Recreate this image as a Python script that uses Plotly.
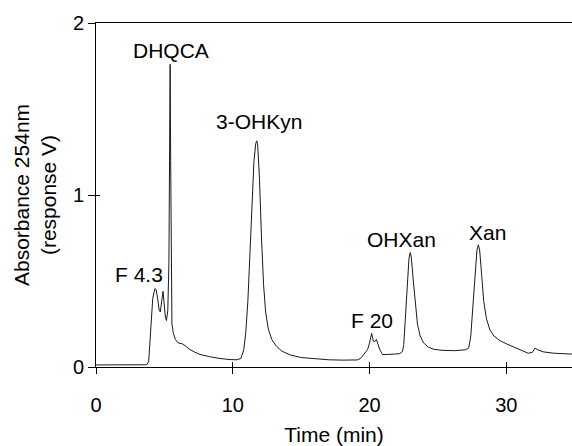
import plotly.graph_objects as go

# Chromatogram trace: retention time (min) and absorbance at 254 nm (response V)
time_min = [
    0.0, 1.5, 3.0, 3.7, 3.85, 3.95, 4.05, 4.15, 4.3, 4.4, 4.5, 4.62, 4.7, 4.8, 4.9,
    4.97, 5.07, 5.15, 5.25, 5.33, 5.38, 5.42, 5.46, 5.5, 5.55, 5.65, 5.8, 6.0, 6.3,
    6.5, 6.8, 7.2, 7.6, 8.3, 9.0, 9.8, 10.3, 10.6, 10.8, 10.95, 11.1, 11.25, 11.4,
    11.55, 11.68, 11.75, 11.82, 11.95, 12.1, 12.25, 12.4, 12.6, 12.85, 13.2, 13.6,
    14.2, 15.0, 16.0, 17.0, 18.0, 19.1, 19.35, 19.6, 19.85, 20.0, 20.15, 20.28,
    20.38, 20.5, 20.6, 20.75, 20.95, 21.3, 21.8, 22.2, 22.4, 22.5, 22.62, 22.75,
    22.88, 22.97, 23.05, 23.2, 23.35, 23.5, 23.7, 23.95, 24.3, 24.7, 25.3, 26.2,
    27.0, 27.25, 27.4, 27.55, 27.7, 27.85, 27.95, 28.05, 28.2, 28.35, 28.55, 28.8,
    29.1, 29.5, 30.0, 30.5, 31.0, 31.6, 31.9, 32.1, 32.3, 32.7, 33.5, 34.8,
]
absorbance = [
    0.012, 0.012, 0.012, 0.013, 0.03, 0.15, 0.3, 0.4, 0.455, 0.45, 0.4, 0.33, 0.32,
    0.38, 0.44, 0.38, 0.29, 0.27, 0.33, 0.6, 1.2, 1.76, 1.2, 0.5, 0.25, 0.2, 0.16,
    0.14, 0.135, 0.125, 0.105, 0.087, 0.073, 0.06, 0.05, 0.043, 0.042, 0.05, 0.1,
    0.2, 0.38, 0.65, 0.95, 1.2, 1.3, 1.315, 1.29, 1.1, 0.75, 0.48, 0.32, 0.22, 0.16,
    0.12, 0.092, 0.07, 0.055, 0.047, 0.042, 0.04, 0.041, 0.05, 0.075, 0.1, 0.14,
    0.195, 0.15, 0.148, 0.16, 0.14, 0.1, 0.072, 0.072, 0.075, 0.078, 0.09, 0.13,
    0.3, 0.5, 0.63, 0.665, 0.64, 0.5, 0.35, 0.25, 0.18, 0.14, 0.115, 0.103, 0.097,
    0.095, 0.1, 0.11, 0.18, 0.35, 0.55, 0.68, 0.71, 0.68, 0.53, 0.38, 0.28, 0.215,
    0.18, 0.155, 0.135, 0.118, 0.1, 0.08, 0.085, 0.11, 0.1, 0.088, 0.08, 0.075,
]

# Peak names and where their labels sit (time, absorbance)
peak_names = ["DHQCA", "3-OHKyn", "F 4.3", "F 20", "OHXan", "Xan"]
label_time = [5.45, 11.9, 3.15, 20.15, 22.3, 28.6]
label_abs = [1.84, 1.43, 0.535, 0.27, 0.74, 0.78]

x_ticks = [0, 10, 20, 30]
y_ticks = [0, 1, 2]

FONT = "Liberation Sans"

fig = go.Figure()
fig.add_trace(go.Scatter(
    x=time_min, y=absorbance, mode="lines",
    line=dict(color="#1a1a1a", width=1),
    showlegend=False, hoverinfo="skip",
))
# invisible trace on overlaid axes so that the inner halves of the ticks render
fig.add_trace(go.Scatter(
    x=[time_min[0]], y=[absorbance[0]], xaxis="x2", yaxis="y2",
    mode="markers", marker=dict(opacity=0), showlegend=False, hoverinfo="skip",
))

for name, tx, ty in zip(peak_names, label_time, label_abs):
    fig.add_annotation(
        x=tx, y=ty, text=name, showarrow=False,
        font=dict(family=FONT, size=21, color="black"),
        xanchor="center", yanchor="middle",
    )

axis_common = dict(showgrid=False, zeroline=False, linecolor="black", linewidth=1,
                   tickcolor="black", tickwidth=1, automargin=False)

fig.update_layout(
    width=572, height=446,
    margin=dict(l=96, r=0, t=23, b=79),
    plot_bgcolor="white", paper_bgcolor="white",
    font=dict(family=FONT, size=20, color="black"),
    xaxis=dict(
        range=[0, 34.8], tickvals=x_ticks, ticks="outside", ticklen=6,
        ticklabelstandoff=14, showline=True, mirror=True,
        title=dict(text="Time (min)", font=dict(size=21), standoff=21),
        tickfont=dict(size=20), **axis_common,
    ),
    yaxis=dict(
        range=[0, 2], tickvals=y_ticks, ticks="outside", ticklen=7,
        showline=True,
        title=dict(text="Absorbance 254nm<br>(response V)", font=dict(size=21),
                   standoff=10),
        tickfont=dict(size=20), **axis_common,
    ),
    xaxis2=dict(range=[0, 34.8], overlaying="x", tickvals=x_ticks, ticks="inside",
                ticklen=5, showticklabels=False, showgrid=False, zeroline=False,
                tickcolor="black"),
    yaxis2=dict(range=[0, 2], overlaying="y", tickvals=y_ticks, ticks="inside",
                ticklen=4, showticklabels=False, showgrid=False, zeroline=False,
                tickcolor="black"),
)

fig.write_html("out.html")
